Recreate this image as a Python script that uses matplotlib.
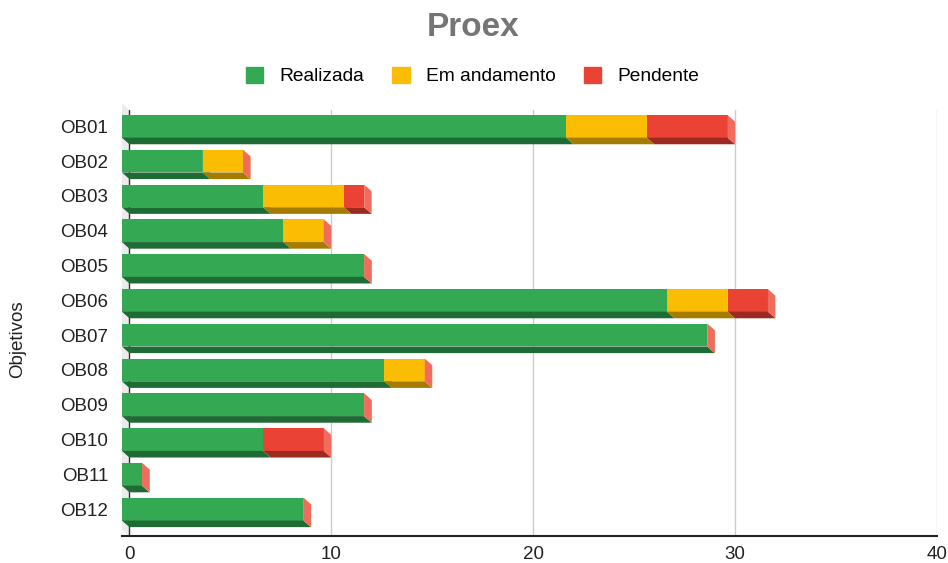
import matplotlib
matplotlib.use("Agg")
import matplotlib.pyplot as plt
from matplotlib.patches import Polygon, Patch
import numpy as np

plt.rcParams["font.family"] = ["Liberation Sans", "DejaVu Sans"]

# data
objetivos = ["OB01", "OB02", "OB03", "OB04", "OB05", "OB06",
             "OB07", "OB08", "OB09", "OB10", "OB11", "OB12"]
realizada = [22, 4, 7, 8, 12, 27, 29, 13, 12, 7, 1, 9]
em_andamento = [4, 2, 4, 2, 0, 3, 0, 2, 0, 0, 0, 0]
pendente = [4, 0, 1, 0, 0, 2, 0, 0, 0, 3, 0, 0]

series = [
    ("Realizada", realizada, "#34a853", "#1f6b34", "#6cc382"),
    ("Em andamento", em_andamento, "#fbbc04", "#a57c00", "#fcd05a"),
    ("Pendente", pendente, "#ea4335", "#9c2a21", "#ef6c5e"),
]

# fake 3d depth
DX = 0.37   # x units
DY = 0.19   # rows
H = 0.65

fig = plt.figure(figsize=(9.48, 5.63), dpi=100)
ax = fig.add_axes([0.1286, 0.04796, 0.8597, 0.7567])
ax.set_xlim(-DX, 40)
ax.set_ylim(11.58, -0.66)

y = np.arange(len(objetivos))
top, bottom = -0.66, 11.58

# left wall + grid
ax.add_patch(Polygon([(-DX, top - DY), (0, top), (0, bottom), (-DX, bottom - DY)],
                     closed=True, color="#ebebeb", lw=0, clip_on=False, zorder=0))
for gx in [10, 20, 30, 40]:
    ax.plot([gx, gx], [bottom, top], color="#cccccc", lw=1, zorder=0.5)
ax.plot([0, 0], [bottom, top], color="#333333", lw=1, zorder=0.5)

left = np.zeros(len(objetivos))
for name, vals, face, dark, light in series:
    vals = np.array(vals, dtype=float)
    ax.barh(y - DY, vals, left=left - DX, height=H, color=face, lw=0, zorder=3)
    for i in range(len(objetivos)):
        a, b = left[i], left[i] + vals[i]
        y0, y1 = y[i] - H / 2, y[i] + H / 2
        ax.add_patch(Polygon([(a - DX, y1 - DY), (b - DX, y1 - DY), (b, y1), (a, y1)],
                             closed=True, color=dark, lw=0, zorder=3))
        ax.add_patch(Polygon([(b - DX, y0 - DY), (b, y0), (b, y1), (b - DX, y1 - DY)],
                             closed=True, color=light, lw=0, zorder=3))
    left = left + vals

for s in ["top", "right", "left"]:
    ax.spines[s].set_visible(False)
ax.spines["bottom"].set_color("#222222")
ax.spines["bottom"].set_linewidth(1.5)
ax.spines["bottom"].set_zorder(4)

ax.set_xticks([0, 10, 20, 30, 40])
ax.set_yticks(y - DY)
ax.set_yticklabels(objetivos)
ax.tick_params(axis="both", length=0, labelsize=13.5, labelcolor="#222222")
ax.tick_params(axis="y", pad=10)
ax.tick_params(axis="x", pad=7.5)

fig.text(0.499, 1 - 28 / 563, "Proex", ha="center", va="center",
         fontsize=24, fontweight="bold", color="#757575")
fig.text(18 / 948, 1 - 339 / 563, "Objetivos", rotation=90, ha="center",
         va="center", fontsize=13.5, color="#222222")

handles = [Patch(facecolor=c, edgecolor=c, label=n) for n, _, c, _, _ in series]
fig.legend(handles=handles, loc="center", bbox_to_anchor=(0.4985, 1 - 76 / 563),
           ncol=3, frameon=False, fontsize=13.8, handlelength=0.9,
           handleheight=0.9, handletextpad=0.85, columnspacing=1.45)

fig.savefig("out.png", dpi=100)
